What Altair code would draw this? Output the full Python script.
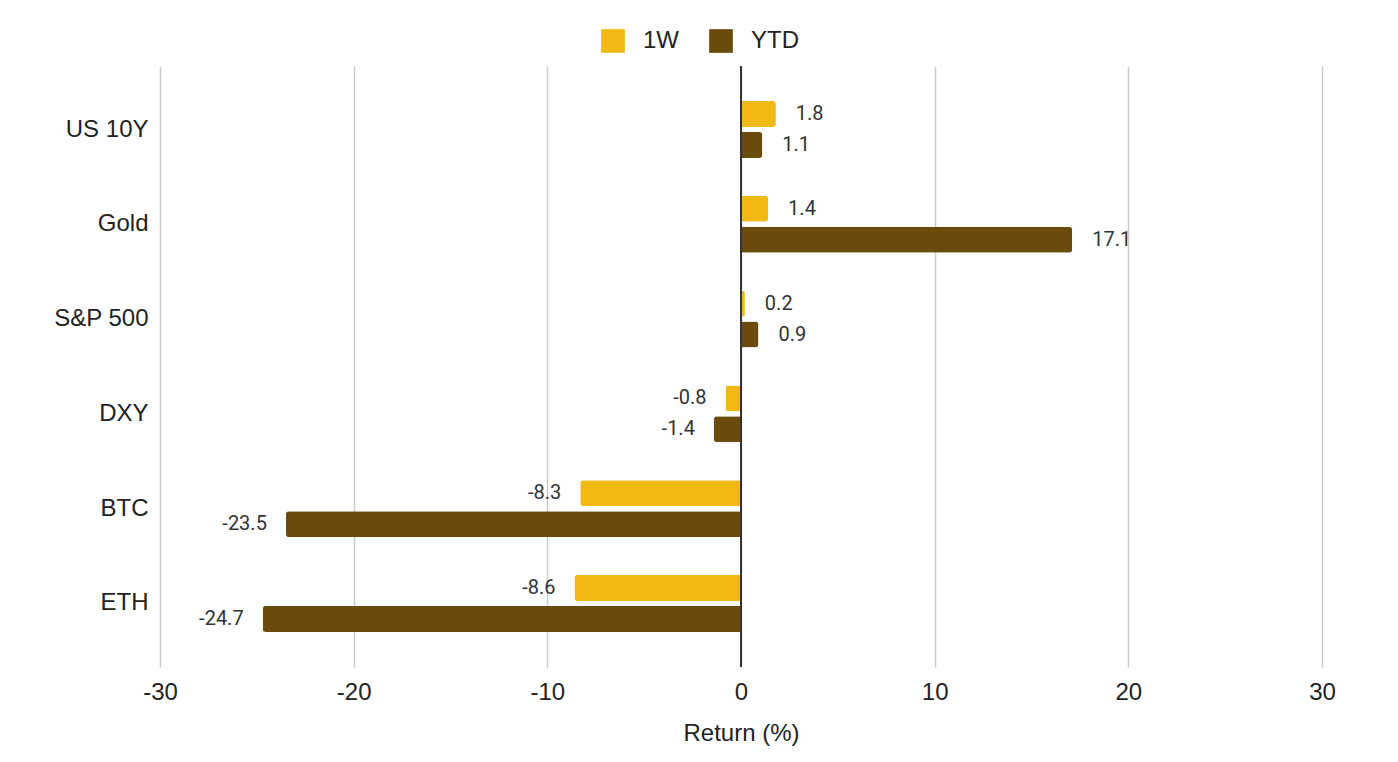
import altair as alt
import pandas as pd

assets = ["US 10Y", "Gold", "S&P 500", "DXY", "BTC", "ETH"]
series = ["1W", "YTD"]
w1 = [1.8, 1.4, 0.2, -0.8, -8.3, -8.6]
ytd = [1.1, 17.1, 0.9, -1.4, -23.5, -24.7]
colors = ["#F1B912", "#6B4B0B"]
x_ticks = [-30, -20, -10, 0, 10, 20, 30]

rows = []
for a, v1, v2 in zip(assets, w1, ytd):
    rows.append({"asset": a, "series": "1W", "value": v1})
    rows.append({"asset": a, "series": "YTD", "value": v2})
df = pd.DataFrame(rows)
df["label"] = df["value"].map(lambda v: f"{v:.1f}")

FONT = "Liberation Sans"
FS = 24

y = alt.Y("asset:N", sort=assets,
          scale=alt.Scale(paddingInner=0.40, paddingOuter=0.37),
          axis=alt.Axis(title=None, labelFont=FONT, labelFontSize=FS,
                        labelColor="#222", ticks=False, domain=False,
                        labelPadding=12, grid=False))
yoff = alt.YOffset("series:N", sort=series, scale=alt.Scale(paddingInner=0.16))
x = alt.X("value:Q", scale=alt.Scale(domain=[-30, 30]),
          axis=alt.Axis(values=x_ticks, title="Return (%)", titleFont=FONT,
                        titleFontSize=FS, titleFontWeight="normal", titleColor="#222",
                        titlePadding=17, labelExpr="datum.value", labelFlush=False,
                        labelFont=FONT, labelFontSize=FS, labelColor="#222",
                        labelPadding=13, ticks=False, domain=False,
                        grid=True, gridColor="#cccccc", gridWidth=1.5))
color = alt.Color("series:N", scale=alt.Scale(domain=series, range=colors),
                  legend=alt.Legend(title=None, orient="none", legendX=441, legendY=-37,
                                    direction="horizontal", symbolType="square",
                                    symbolSize=560, symbolStrokeWidth=0,
                                    labelFont=FONT, labelFontSize=FS,
                                    labelColor="#222", labelOffset=18, columnPadding=30))

base = alt.Chart(df)

pos_bars = base.transform_filter("datum.value >= 0").mark_bar(
    cornerRadiusTopRight=3, cornerRadiusBottomRight=3
).encode(x=x, y=y, yOffset=yoff, color=color)

neg_bars = base.transform_filter("datum.value < 0").mark_bar(
    cornerRadiusTopLeft=3, cornerRadiusBottomLeft=3
).encode(x=x, y=y, yOffset=yoff, color=color)

pos_text = base.transform_filter("datum.value >= 0").mark_text(
    align="left", dx=20, font="Roboto", fontSize=20, color="#333"
).encode(x="value:Q", y=alt.Y("asset:N", sort=assets), yOffset=alt.YOffset("series:N", sort=series), text="label:N")

neg_text = base.transform_filter("datum.value < 0").mark_text(
    align="right", dx=-19, font="Roboto", fontSize=20, color="#333"
).encode(x="value:Q", y=alt.Y("asset:N", sort=assets), yOffset=alt.YOffset("series:N", sort=series), text="label:N")

zero = alt.Chart(pd.DataFrame({"z": [0]})).mark_rule(color="#333", strokeWidth=2).encode(x="z:Q")

chart = alt.layer(pos_bars, neg_bars, pos_text, neg_text, zero).properties(
    width=1162, height=601,
    autosize=alt.AutoSizeParams(type="none"),
    padding={"left": 152, "top": 58, "right": 60, "bottom": 80},
).configure_view(stroke=None)

chart.save("out.html", embed_options={"renderer": "svg", "actions": False})
